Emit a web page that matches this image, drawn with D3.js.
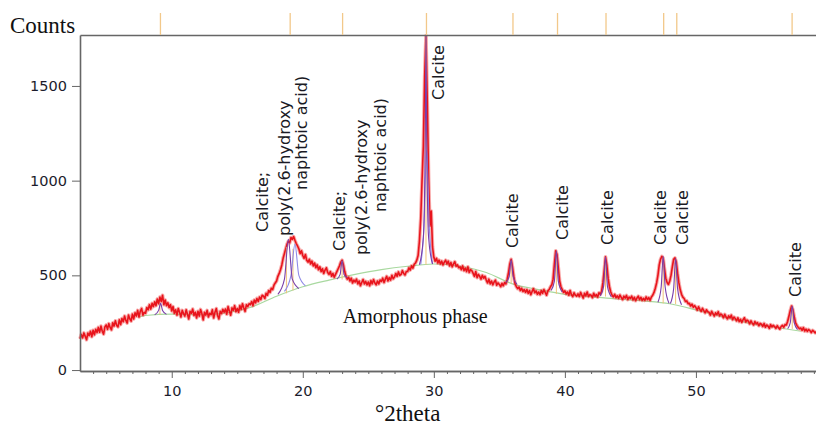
<!DOCTYPE html>
<html>
<head>
<meta charset="utf-8">
<script src="https://cdn.jsdelivr.net/npm/d3@7"></script>
<style>
body { margin: 0; background: #fff; }
</style>
</head>
<body>
<script>
var w = 816;
var h = 428;

// scan: starts at 3.0 deg, one reading every 0.1 deg (one row = one degree)
var thetaStart = 3.0;
var thetaStep = 0.1;
var counts = [
  165, 188, 170, 196, 178, 160, 195, 182, 205, 176,
  210, 186, 215, 198, 225, 200, 232, 205, 190, 228,
  238, 215, 245, 225, 212, 250, 232, 260, 236, 228,
  265, 240, 272, 255, 285, 262, 248, 290, 270, 258,
  295, 270, 302, 285, 315, 280, 310, 325, 290, 305,
  300, 330, 318, 345, 322, 352, 335, 360, 340, 375,
  350, 385, 362, 395, 345, 370, 340, 355, 330, 345,
  312, 335, 300, 318, 290, 325, 305, 280, 315, 298,
  285, 318, 295, 270, 310, 300, 322, 288, 305, 275,
  310, 285, 320, 298, 265, 305, 290, 315, 280, 300,
  292, 318, 275, 305, 325, 288, 270, 310, 298, 320,
  305, 322, 295, 335, 310, 290, 328, 315, 340, 308,
  325, 305, 340, 320, 350, 328, 310, 345, 335, 350,
  345, 362, 340, 370, 355, 378, 362, 385, 372, 395,
  390, 378, 405, 395, 420, 410, 432, 425, 448, 460,
  470, 495, 510, 530, 555, 590, 615, 640, 665, 680,
  672, 700, 690, 705, 685, 668, 655, 640, 615, 630,
  605, 590, 610, 580, 570, 585, 560, 575, 550, 565,
  540, 555, 530, 545, 520, 535, 510, 528, 540, 515,
  505, 520, 495, 510, 490, 505, 520, 535, 550, 570,
  580, 555, 520, 495, 480, 490, 470, 485, 460, 475,
  465, 480, 455, 470, 445, 462, 478, 455, 468, 450,
  465, 445, 472, 455, 478, 460, 450, 470, 455, 475,
  468, 485, 462, 480, 495, 470, 488, 475, 500, 482,
  492, 510, 495, 518, 500, 505, 525, 510, 502, 520,
  520, 540, 528, 550, 538, 558, 565, 580, 605, 680,
  800, 1000, 1180, 1550, 1765, 1420, 1020, 760, 840, 650,
  595, 575, 590, 565, 580, 560, 575, 555, 570, 580,
  560, 575, 550, 568, 545, 560, 572, 548, 555, 540,
  545, 530, 550, 525, 538, 520, 545, 515, 530, 525,
  510, 495, 520, 488, 505, 495, 480, 500, 485, 495,
  475, 460, 480, 455, 470, 450, 465, 475, 448, 460,
  452, 440, 458, 445, 462, 455, 480, 515, 560, 585,
  545, 495, 455, 440, 430, 438, 420, 432, 415, 425,
  410, 425, 405, 420, 398, 415, 430, 408, 418, 400,
  412, 398, 420, 405, 425, 410, 395, 418, 425, 440,
  450, 480, 560, 630, 610, 540, 470, 440, 425, 410,
  418, 402, 412, 395, 420, 398, 388, 408, 396, 390,
  402, 388, 410, 395, 380, 405, 392, 412, 388, 398,
  395, 382, 405, 390, 398, 385, 408, 400, 415, 460,
  525, 598, 555, 485, 440, 412, 395, 386, 400, 382,
  392, 378, 396, 384, 372, 390, 380, 394, 372, 385,
  378, 390, 370, 384, 366, 380, 390, 372, 384, 368,
  378, 368, 386, 372, 382, 368, 386, 395, 410, 432,
  460, 500, 555, 585, 600, 590, 535, 485, 462, 452,
  470, 500, 545, 585, 592, 570, 510, 460, 425, 400,
  385, 378, 362, 365, 350, 352, 338, 348, 332, 340,
  330, 316, 334, 320, 310, 326, 314, 302, 318, 308,
  305, 290, 310, 298, 285, 302, 292, 308, 286, 296,
  290, 276, 294, 280, 270, 286, 276, 290, 266, 280,
  272, 260, 276, 256, 268, 252, 266, 276, 254, 264,
  258, 244, 260, 248, 238, 256, 244, 250, 234, 246,
  242, 230, 246, 226, 238, 232, 220, 240, 228, 236,
  230, 220, 234, 224, 216, 230, 236, 226, 240, 238,
  258, 285, 315, 338, 318, 282, 250, 236, 226, 218,
  222, 210, 224, 206, 216, 204, 214, 208, 198, 210,
  204, 196, 205
];

// amorphous background (green)
var bgTheta  = [7.5, 8, 10, 12, 14, 16, 18, 20, 22, 24, 26, 28, 30, 32, 34, 36, 38, 40, 42, 44, 46, 48, 50, 52, 54, 56, 58];
var bgCounts = [280, 288, 295, 292, 300, 330, 390, 440, 475, 505, 530, 548, 560, 548, 515, 455, 425, 400, 388, 375, 365, 350, 318, 282, 248, 226, 205];

// fitted peaks: orange sticks
var stickTheta = [9.1, 18.75, 19.25, 23.0, 29.4, 35.9, 39.35, 43.1, 47.5, 48.45, 57.35];
var stickBase  = [292, 405, 420, 478, 556, 458, 402, 388, 352, 348, 217];
var stickTop   = [350, 650, 640, 575, 1765, 575, 625, 595, 595, 585, 335];

// fitted profiles [theta, counts]
var profiles = [
  [[8.7,292],[9.0,315],[9.15,352],[9.3,315],[9.6,294]],
  [[18.1,400],[18.6,480],[18.9,690],[19.2,480],[19.7,430]],
  [[22.6,480],[22.85,505],[23.0,578],[23.15,505],[23.4,488]],
  [[28.9,556],[29.2,700],[29.35,1250],[29.4,1765],[29.45,1250],[29.6,700],[29.9,560]],
  [[35.5,462],[35.75,495],[35.9,582],[36.05,495],[36.35,452]],
  [[38.95,420],[39.2,470],[39.35,630],[39.5,470],[39.8,412]],
  [[42.7,392],[42.95,440],[43.1,598],[43.25,440],[43.55,386]],
  [[47.1,358],[47.35,440],[47.5,600],[47.65,440],[47.95,352]],
  [[48.05,351],[48.3,430],[48.45,590],[48.6,430],[48.9,345]],
  [[57.0,218],[57.2,250],[57.35,338],[57.5,250],[57.75,213]]
];
var profiles2 = [
  [[18.6,415],[19.1,500],[19.4,665],[19.7,500],[20.2,445]],
  [[29.0,557],[29.25,760],[29.45,1160],[29.65,760],[29.9,560]]
];

// reference pattern lines along the top
var refTheta = [9.1, 19.0, 23.0, 29.4, 36.0, 39.4, 43.1, 47.5, 48.5, 57.3];

// peak labels (bottom end of each rotated line)
var labelText   = ["Calcite;", "poly(2.6-hydroxy", "naphtoic acid)",
                   "Calcite;", "poly(2.6-hydroxy", "naphtoic acid)",
                   "Calcite", "Calcite", "Calcite", "Calcite", "Calcite", "Calcite", "Calcite"];
var labelTheta  = [16.89, 18.57, 19.86, 22.76, 24.44, 25.89, 30.32, 35.96, 39.78, 43.21, 47.26, 48.94, 57.56];
var labelCounts = [729, 708, 951, 629, 607, 834, 1426, 644, 687, 660, 660, 660, 386];

var xTicks = [10, 20, 30, 40, 50];
var xMinor = d3.range(4, 60).filter(function(d) { return d % 10 !== 0; });
var yTicks = [0, 500, 1000, 1500];

var svg = d3.select("body")
    .append("svg")
    .attr("width", w)
    .attr("height", h);

var x = d3.scaleLinear().domain([3, 59.2]).range([80, 816.5]);
var y = d3.scaleLinear().domain([-5, 1769]).range([371, 35]);

var scan = counts.map(function(c, i) { return [thetaStart + i * thetaStep, c]; });

var line = d3.line()
    .x(function(d) { return x(d[0]); })
    .y(function(d) { return y(d[1]); });

var smooth = d3.line()
    .x(function(d) { return x(d[0]); })
    .y(function(d) { return y(d[1]); })
    .curve(d3.curveMonotoneX);

// background
svg.append("path")
    .attr("d", smooth(bgTheta.map(function(t, i) { return [t, bgCounts[i]]; })))
    .attr("fill", "none")
    .attr("stroke", "#a9d9a0")
    .attr("stroke-width", 1.2);

// measured scan (soft halo + core, like the fuzzy band of the original)
svg.append("path")
    .attr("d", line(scan))
    .attr("fill", "none")
    .attr("stroke", "#f04040")
    .attr("stroke-opacity", 0.45)
    .attr("stroke-width", 3.6)
    .attr("stroke-linejoin", "round");

svg.append("path")
    .attr("d", line(scan))
    .attr("fill", "none")
    .attr("stroke", "#e8141c")
    .attr("stroke-width", 1.6)
    .attr("stroke-linejoin", "round");

// sticks
svg.selectAll(".stick")
    .data(stickTheta)
    .enter().append("line")
    .attr("class", "stick")
    .attr("x1", function(d) { return x(d); })
    .attr("x2", function(d) { return x(d); })
    .attr("y1", function(d, i) { return y(stickBase[i]); })
    .attr("y2", function(d, i) { return y(stickTop[i]); })
    .attr("stroke", "#f2c27a")
    .attr("stroke-width", 1);

svg.selectAll(".prof2")
    .data(profiles2)
    .enter().append("path")
    .attr("class", "prof2")
    .attr("d", smooth)
    .attr("fill", "none")
    .attr("stroke", "#8f8ae6")
    .attr("stroke-width", 1.1);

svg.selectAll(".prof")
    .data(profiles)
    .enter().append("path")
    .attr("class", "prof")
    .attr("d", smooth)
    .attr("fill", "none")
    .attr("stroke", "#7a3ea8")
    .attr("stroke-width", 1.1);

// axes
var axisColor = "#666";

var gx = svg.append("g").attr("transform", "translate(0,371)");
gx.call(d3.axisBottom(x).tickValues(xMinor).tickSize(3).tickSizeOuter(0).tickFormat(""));
gx.append("g").call(d3.axisBottom(x).tickValues(xTicks).tickSize(7).tickPadding(8).tickSizeOuter(0));

var gy = svg.append("g").attr("transform", "translate(80,0)");
gy.call(d3.axisLeft(y).tickValues(yTicks).tickFormat(d3.format("d")).tickSize(8).tickPadding(5).tickSizeOuter(0));

var gt = svg.append("g").attr("transform", "translate(0,35)");
gt.call(d3.axisTop(x).tickValues(refTheta).tickSize(22).tickSizeOuter(0).tickFormat(""));
gt.selectAll(".tick line").attr("stroke", "#f2c88a").attr("stroke-width", 1.3);

svg.selectAll(".domain").attr("stroke", axisColor).attr("stroke-width", 1.6);
gx.selectAll(".tick line").attr("stroke", axisColor);
gy.selectAll(".tick line").attr("stroke", axisColor);
svg.selectAll(".tick text")
    .attr("font-family", "DejaVu Sans")
    .attr("font-size", 14.5)
    .attr("fill", "#1c1c2c");

// peak labels
svg.selectAll(".lbl")
    .data(labelText)
    .enter().append("text")
    .attr("class", "lbl")
    .attr("transform", function(d, i) {
        return "translate(" + x(labelTheta[i]) + "," + y(labelCounts[i]) + ") rotate(-90)";
    })
    .attr("dy", "0.36em")
    .attr("font-family", "DejaVu Sans")
    .attr("font-size", 16)
    .attr("fill", "#1a1a24")
    .text(function(d) { return d; });

svg.append("text")
    .attr("x", x(23.05))
    .attr("y", y(248))
    .attr("font-family", "Liberation Serif")
    .attr("font-size", 20)
    .attr("fill", "#111")
    .text("Amorphous phase");

svg.append("text")
    .attr("x", 10)
    .attr("y", 33)
    .attr("font-family", "Liberation Serif")
    .attr("font-size", 23)
    .attr("fill", "#111")
    .text("Counts");

svg.append("text")
    .attr("x", 375)
    .attr("y", 421)
    .attr("font-family", "Liberation Serif")
    .attr("font-size", 23)
    .attr("fill", "#111")
    .text("°2theta");
</script>
</body>
</html>
